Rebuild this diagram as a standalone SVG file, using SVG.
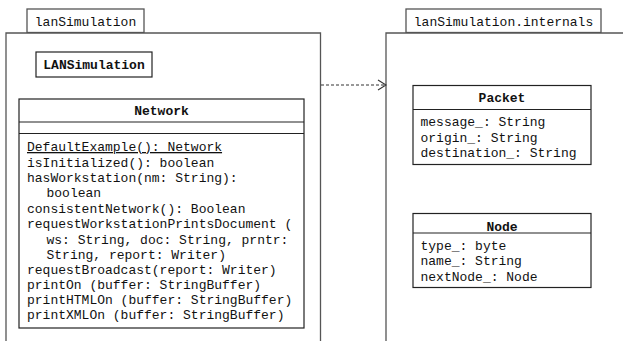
<svg xmlns="http://www.w3.org/2000/svg" width="623" height="341" viewBox="0 0 623 341">
<style>
text{font-family:"Liberation Mono","Courier New",monospace;font-size:13px;fill:#111}
.b{font-weight:bold;text-anchor:middle}
.c{text-anchor:middle}
.pk{fill:#fff;stroke:#555;stroke-width:1.3}
.bx{fill:#fff;stroke:#222;stroke-width:1.2}
.ln{stroke:#222;stroke-width:1.2}
</style>
<defs>
<marker id="open" markerWidth="10" markerHeight="12" refX="9" refY="6" orient="auto" markerUnits="userSpaceOnUse">
<path d="M1,1 L9,6 L1,11" fill="none" stroke="#333" stroke-width="1.1"/>
</marker>
</defs>
<g id="pkg-lanSimulation">
<rect class="pk" x="27" y="9" width="117" height="23.5"/>
<text class="c" x="85.5" y="25.5">lanSimulation</text>
<path class="pk" d="M6,345 V33 H320.5 V345"/>
</g>
<g id="pkg-internals">
<rect class="pk" x="406" y="9" width="195" height="23.5"/>
<text class="c" x="503.5" y="25.5">lanSimulation.internals</text>
<path class="pk" d="M386,345 V33 H630"/>
</g>
<g id="LANSimulation">
<rect class="bx" x="36" y="52" width="116" height="25"/>
<text class="b" x="94" y="69">LANSimulation</text>
</g>
<g id="Network">
<rect class="bx" x="19" y="99" width="285" height="229"/>
<line class="ln" x1="19" y1="122" x2="304" y2="122"/>
<line class="ln" x1="19" y1="133.5" x2="304" y2="133.5"/>
<text class="b" x="161.5" y="115">Network</text>
<text x="27" y="151" text-decoration="underline">DefaultExample(): Network</text>
<text x="27" y="166.5">isInitialized(): boolean</text>
<text x="27" y="182">hasWorkstation(nm: String):</text>
<text x="46.5" y="197">boolean</text>
<text x="27" y="212.5">consistentNetwork(): Boolean</text>
<text x="27" y="228">requestWorkstationPrintsDocument (</text>
<text x="46.5" y="243.5">ws: String, doc: String, prntr:</text>
<text x="46.5" y="258.5">String, report: Writer)</text>
<text x="27" y="274">requestBroadcast(report: Writer)</text>
<text x="27" y="289">printOn (buffer: StringBuffer)</text>
<text x="27" y="304">printHTMLOn (buffer: StringBuffer)</text>
<text x="27" y="319">printXMLOn (buffer: StringBuffer)</text>
</g>
<g id="Packet">
<rect class="bx" x="413" y="85.5" width="178" height="79"/>
<line class="ln" x1="413" y1="109.5" x2="591" y2="109.5"/>
<text class="b" x="502" y="102">Packet</text>
<text x="420.5" y="126">message_: String</text>
<text x="420.5" y="141.5">origin_: String</text>
<text x="420.5" y="157">destination_: String</text>
</g>
<g id="Node">
<rect class="bx" x="413" y="213.5" width="178" height="74"/>
<line class="ln" x1="413" y1="233" x2="591" y2="233"/>
<text class="b" x="502" y="231">Node</text>
<text x="420.5" y="250">type_: byte</text>
<text x="420.5" y="265">name_: String</text>
<text x="420.5" y="281">nextNode_: Node</text>
</g>
<g id="connectors">
<line x1="321" y1="85" x2="386" y2="85" stroke="#333" stroke-width="1.1" stroke-dasharray="3,2" marker-end="url(#open)"/>
</g>
</svg>
